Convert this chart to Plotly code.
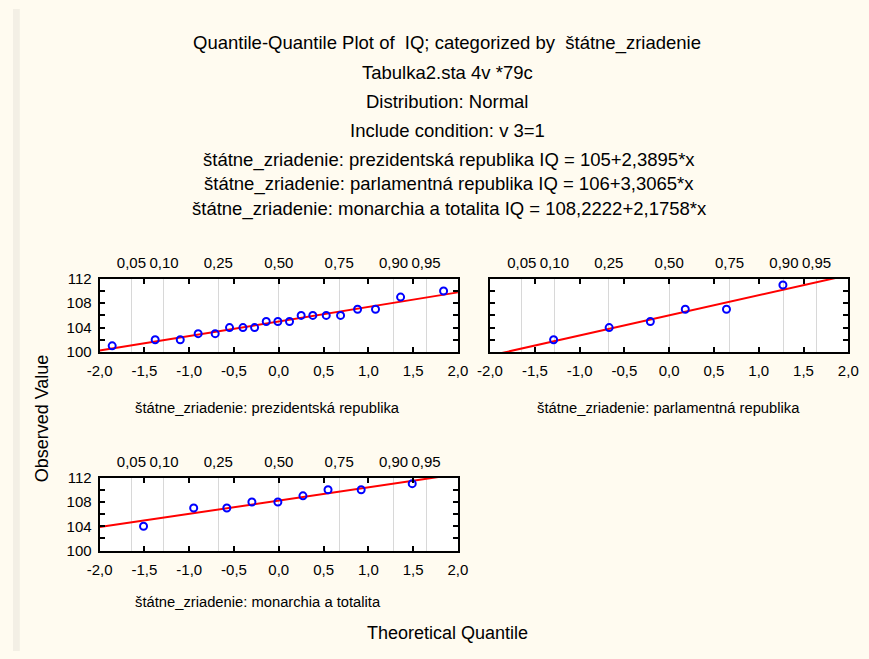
import plotly.graph_objects as go

W, H = 869, 659
BG = "#FFFBF0"
FONT = "Liberation Sans, Arial, sans-serif"

# ---- data ----
group_labels = ["štátne_zriadenie: prezidentská republika",
                "štátne_zriadenie: parlamentná republika",
                "štátne_zriadenie: monarchia a totalita"]
intercepts = [105.0, 106.0, 108.2222]
slopes = [2.3895, 3.3065, 2.1758]
equations = ["IQ = 105+2,3895*x", "IQ = 106+3,3065*x", "IQ = 108,2222+2,1758*x"]

q_prez = [-1.86, -1.38, -1.10, -0.90, -0.71, -0.55, -0.40, -0.27, -0.14, -0.01,
          0.12, 0.25, 0.38, 0.53, 0.69, 0.88, 1.08, 1.36, 1.84]
iq_prez = [101, 102, 102, 103, 103, 104, 104, 104, 105, 105,
           105, 106, 106, 106, 106, 107, 107, 109, 110]

q_parl = [-1.29, -0.67, -0.21, 0.18, 0.64, 1.27]
iq_parl = [102, 104, 105, 107, 107, 111]

q_mon = [-1.51, -0.95, -0.58, -0.30, -0.01, 0.27, 0.55, 0.92, 1.49]
iq_mon = [104, 107, 107, 108, 108, 109, 110, 110, 111]

prob_labels = ["0,05", "0,10", "0,25", "0,50", "0,75", "0,90", "0,95"]
prob_z = [-1.645, -1.2816, -0.6745, 0.0, 0.6745, 1.2816, 1.645]

x_tick_vals = [-2.0, -1.5, -1.0, -0.5, 0.0, 0.5, 1.0, 1.5, 2.0]
x_tick_text = ["-2,0", "-1,5", "-1,0", "-0,5", "0,0", "0,5", "1,0", "1,5", "2,0"]
y_tick_vals = [100, 102, 104, 106, 108, 110, 112]
y_tick_text = ["100", "", "104", "", "108", "", "112"]

x_range = [-2.0, 2.0]
y_range = [100, 112]

title_lines = ["Quantile-Quantile Plot of  IQ; categorized by  štátne_zriadenie",
               "Tabulka2.sta 4v *79c",
               "Distribution: Normal",
               "Include condition: v 3=1"]

# ---- layout geometry (pixels) ----
panels = [  # x0, x1, y0(top), y1(bottom)
    (89, 457, 277, 352),
    (490, 858, 277, 352),
    (89, 457, 481, 556),
]
series = [(q_prez, iq_prez), (q_parl, iq_parl), (q_mon, iq_mon)]


def xd(px):
    return px / W


def yd(py):
    return 1 - py / H


fig = go.Figure()
layout = dict(
    width=W, height=H, margin=dict(l=0, r=0, t=0, b=0),
    paper_bgcolor=BG, plot_bgcolor="white", showlegend=False,
    font=dict(family=FONT, size=15, color="black"),
)

TICKF = dict(size=15, family=FONT, color="black")

for i, ((x0, x1, y0, y1), (qx, qy)) in enumerate(zip(panels, series)):
    n = i + 1
    xa = "x" if n == 1 else f"x{n}"
    ya = "y" if n == 1 else f"y{n}"
    top_n = n + 3
    xa_top = f"x{top_n}"

    layout[f"xaxis{'' if n == 1 else n}"] = dict(
        domain=[xd(x0), xd(x1)], anchor=ya, range=x_range,
        tickmode="array", tickvals=x_tick_vals, ticktext=x_tick_text,
        ticks="inside", ticklen=5, tickwidth=1.5, tickcolor="black",
        showline=True, linewidth=2, linecolor="black", mirror="ticks",
        showgrid=False, zeroline=False, ticklabelstandoff=4,
        tickfont=TICKF,
    )
    layout[f"yaxis{'' if n == 1 else n}"] = dict(
        domain=[yd(y1), yd(y0)], anchor=xa, range=y_range,
        tickmode="array", tickvals=y_tick_vals,
        ticktext=y_tick_text if n != 2 else [""] * len(y_tick_vals),
        ticks="inside", ticklen=5, tickwidth=1.5, tickcolor="black",
        showline=True, linewidth=2, linecolor="black", mirror="ticks",
        showgrid=False, zeroline=False, ticklabelstandoff=3,
        tickfont=TICKF,
    )
    layout[f"xaxis{top_n}"] = dict(
        overlaying=xa, side="top", anchor=ya, range=x_range,
        tickmode="array", tickvals=prob_z, ticktext=prob_labels,
        ticks="", showline=False, showgrid=True, gridcolor="#D8D8D8",
        gridwidth=1, zeroline=False, ticklabelstandoff=7,
        tickfont=TICKF,
    )
    # invisible trace so the top (probability) axis is drawn
    fig.add_trace(go.Scatter(x=prob_z, y=[y_range[0]] * len(prob_z), xaxis=xa_top, yaxis=ya,
                             mode="markers", marker=dict(opacity=0), hoverinfo="skip"))
    # fitted line
    lx = list(x_range)
    ly = [intercepts[i] + slopes[i] * v for v in lx]
    fig.add_trace(go.Scatter(x=lx, y=ly, xaxis=xa, yaxis=ya, mode="lines",
                             line=dict(color="#FF0000", width=2)))
    # observed points
    fig.add_trace(go.Scatter(x=qx, y=qy, xaxis=xa, yaxis=ya, mode="markers",
                             marker=dict(symbol="circle-open", size=7, color="#0000FF",
                                         line=dict(width=2, color="#0000FF")),
                             cliponaxis=False))

TITLE_SIZE = 18.5
annotations = []
title_y = [35, 65, 95, 125]
for txt, py in zip(title_lines, title_y):
    annotations.append(dict(text=txt, x=xd(446), y=yd(py), xref="paper", yref="paper",
                            showarrow=False, xanchor="center", yanchor="middle",
                            font=dict(size=TITLE_SIZE, family=FONT)))
eq_y = [155, 180, 205]
for lab, eq, py in zip(group_labels, equations, eq_y):
    annotations.append(dict(text=f"{lab} {eq}", x=xd(448), y=yd(py), xref="paper", yref="paper",
                            showarrow=False, xanchor="center", yanchor="middle",
                            font=dict(size=TITLE_SIZE, family=FONT)))

caption_pos = [(261, 410), (673, 410), (252, 609)]
for lab, (px, py) in zip(group_labels, caption_pos):
    annotations.append(dict(text=lab, x=xd(px), y=yd(py), xref="paper", yref="paper",
                            showarrow=False, xanchor="center", yanchor="middle",
                            font=dict(size=14.75, family=FONT)))

annotations.append(dict(text="Observed Value", x=xd(30), y=yd(420), xref="paper", yref="paper",
                        showarrow=False, textangle=-90, xanchor="center", yanchor="middle",
                        font=dict(size=18, family=FONT)))
annotations.append(dict(text="Theoretical Quantile", x=xd(446), y=yd(641), xref="paper", yref="paper",
                        showarrow=False, xanchor="center", yanchor="middle",
                        font=dict(size=18, family=FONT)))

layout["annotations"] = annotations
# slightly darker strip at the left edge of the window, as in the reference
layout["shapes"] = [dict(type="rect", xref="paper", yref="paper", x0=0, x1=7 / W, y0=0, y1=1,
                         fillcolor="#F3EFE5", line=dict(width=0), layer="below")]
fig.update_layout(**layout)
fig.write_html("out.html",
               config={"displayModeBar": False},
               post_script="document.body.style.margin='0';document.body.style.overflow='hidden';")
